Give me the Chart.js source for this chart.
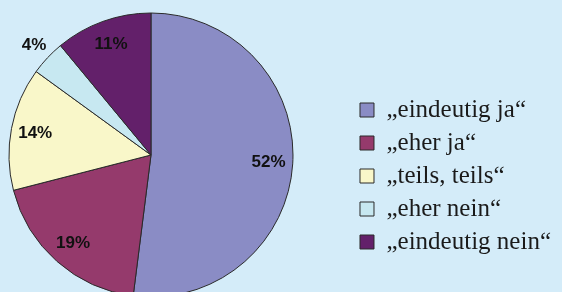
<!DOCTYPE html>
<html>
<head>
<meta charset="utf-8">
<script src="https://cdn.jsdelivr.net/npm/chart.js@4"></script>
<style>
    html, body {
        margin: 0;
        padding: 0;
        background: #d4ecf9;
        overflow: hidden;
    }
    .chart-box {
        width: 562px;
        height: 292px;
        overflow: hidden;
    }
    /* canvas is wider than the page, so the pie can sit further left */
    #pieChart {
        margin-left: -50px;
        display: block;
    }
</style>
</head>
<body>
<div class="chart-box">
    <canvas id="pieChart" width="612" height="292"></canvas>
</div>
<script>
// Daten
const categories = ['„eindeutig ja“', '„eher ja“', '„teils, teils“', '„eher nein“', '„eindeutig nein“'];
const shares = [52, 19, 14, 4, 11];
const sliceColors = ['#8a8cc5', '#953a6c', '#f9f7c9', '#c7e8f1', '#63206a'];

// Prozent-Beschriftungen in den Segmenten
const percentLabels = {
    id: 'percentLabels',
    afterDatasetsDraw: function (chart) {
        var ctx = chart.ctx;
        var meta = chart.getDatasetMeta(0);
        ctx.save();
        ctx.font = 'bold 17px "Liberation Sans", Arial, sans-serif';
        ctx.fillStyle = '#111';
        ctx.textAlign = 'center';
        ctx.textBaseline = 'middle';
        meta.data.forEach(function (arc, i) {
            var mid = (arc.startAngle + arc.endAngle) / 2;
            // kleine Segmente bekommen die Zahl ausserhalb
            var f = shares[i] < 5 ? 1.13 : 0.83;
            var x = arc.x + Math.cos(mid) * arc.outerRadius * f;
            var y = arc.y + Math.sin(mid) * arc.outerRadius * f;
            ctx.fillText(shares[i] + '%', x, y);
        });
        ctx.restore();
    }
};

const ctx = document.getElementById('pieChart').getContext('2d');
new Chart(ctx, {
    type: 'pie',
    data: {
        labels: categories,
        datasets: [{
            data: shares,
            backgroundColor: sliceColors,
            borderColor: '#2a2a2a',
            borderWidth: 1,
            radius: 142,
            clip: false
        }]
    },
    options: {
        responsive: false,
        animation: false,
        layout: {
            padding: {left: 0, top: 18, right: 1, bottom: 0}
        },
        plugins: {
            tooltip: {enabled: false},
            legend: {
                position: 'right',
                title: {
                    display: true,
                    text: '',
                    padding: {top: 0, bottom: 0},
                    font: {size: 35, lineHeight: 1.2}
                },
                labels: {
                    boxWidth: 14,
                    boxHeight: 14,
                    padding: 8,
                    color: '#1a1a1a',
                    font: {family: '"Liberation Serif", "Times New Roman", serif', size: 25}
                }
            }
        }
    },
    plugins: [percentLabels]
});
</script>
</body>
</html>
